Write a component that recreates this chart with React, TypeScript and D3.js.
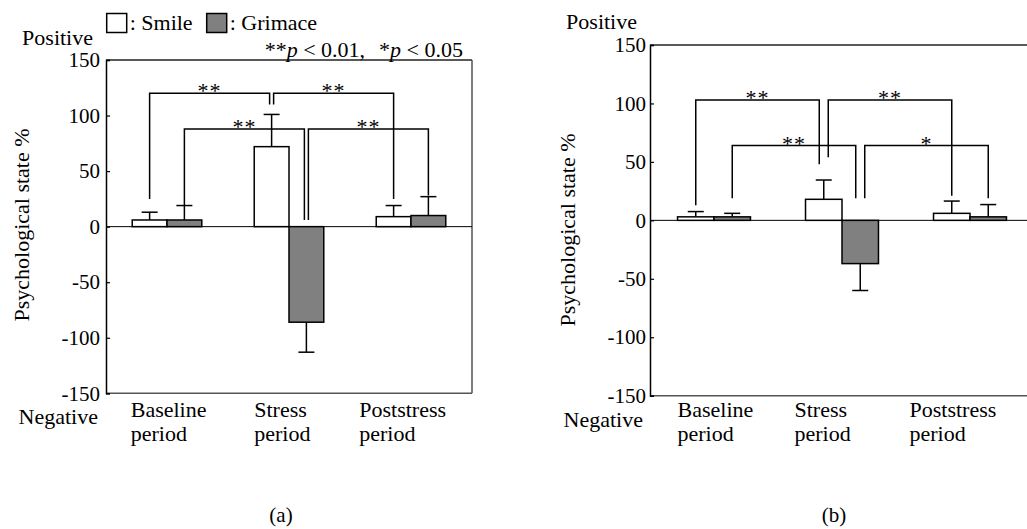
import React, { useEffect, useRef } from 'react';
import * as d3 from 'd3';

// categories and series
const periods = ['Baseline', 'Stress', 'Poststress'];
const periodLines = [
  ['Baseline', 'period'],
  ['Stress', 'period'],
  ['Poststress', 'period'],
];
const seriesKeys = ['smile', 'grimace'];
const yTicks = [-150, -100, -50, 0, 50, 100, 150];

// panel (a) values (mean and SD, %)
const smileA = [6, 72, 9];
const smileSdA = [7, 29, 10];
const grimaceA = [6, -86, 10];
const grimaceSdA = [13, 27, 17];

// panel (b) values
const smileB = [3, 18, 6];
const smileSdB = [4.5, 16.5, 10.5];
const grimaceB = [3, -37, 3];
const grimaceSdB = [3, 23, 10.5];

interface Leg {
  period: string;
  series: string;
  end: number;
}
interface Bracket {
  from: Leg;
  to: Leg;
  level: number;
  label: string;
}

const bracketsA: Bracket[] = [
  { from: { period: 'Baseline', series: 'smile', end: 25 }, to: { period: 'Stress', series: 'smile', end: 110 }, level: 120, label: '**' },
  { from: { period: 'Stress', series: 'smile', end: 110 }, to: { period: 'Poststress', series: 'smile', end: 25 }, level: 120, label: '**' },
  { from: { period: 'Baseline', series: 'grimace', end: 19 }, to: { period: 'Stress', series: 'grimace', end: 6 }, level: 88, label: '**' },
  { from: { period: 'Stress', series: 'grimace', end: 6 }, to: { period: 'Poststress', series: 'grimace', end: 28 }, level: 88, label: '**' },
];

const bracketsB: Bracket[] = [
  { from: { period: 'Baseline', series: 'smile', end: 13 }, to: { period: 'Stress', series: 'smile', end: 48 }, level: 103, label: '**' },
  { from: { period: 'Stress', series: 'smile', end: 54 }, to: { period: 'Poststress', series: 'smile', end: 21 }, level: 103, label: '**' },
  { from: { period: 'Baseline', series: 'grimace', end: 19 }, to: { period: 'Stress', series: 'grimace', end: 19 }, level: 64, label: '**' },
  { from: { period: 'Stress', series: 'grimace', end: 19 }, to: { period: 'Poststress', series: 'grimace', end: 19 }, level: 64, label: '*' },
];

const FONT = '"Liberation Serif", "Times New Roman", serif';
const GREY = '#808080';

interface PanelConfig {
  left: number;
  right: number;
  top: number;
  bottom: number;
  smile: number[];
  smileSd: number[];
  grimace: number[];
  grimaceSd: number[];
  brackets: Bracket[];
  legGap: number;
  tickGap: number;
  labelDx: number[];
  ylabelX: number;
  ylabelY: number;
  positive: [number, number];
  negative: [number, number];
  caption: [number, string];
}

const panelA: PanelConfig = {
  left: 106, right: 472, top: 60, bottom: 393.3,
  smile: smileA, smileSd: smileSdA, grimace: grimaceA, grimaceSd: grimaceSdA,
  brackets: bracketsA, legGap: 4, tickGap: 6,
  labelDx: [-1.5, 0, -17],
  ylabelX: 29, ylabelY: 225,
  positive: [93, 45], negative: [98, 424],
  caption: [281, '(a)'],
};

const panelB: PanelConfig = {
  left: 650, right: 1034, top: 45, bottom: 395.7,
  smile: smileB, smileSd: smileSdB, grimace: grimaceB, grimaceSd: grimaceSdB,
  brackets: bracketsB, legGap: 9, tickGap: 4,
  labelDx: [0, -11, -24],
  ylabelX: 575, ylabelY: 230,
  positive: [637, 29], negative: [643, 427],
  caption: [834, '(b)'],
};

function drawPanel(svg: d3.Selection<SVGSVGElement, unknown, null, undefined>, c: PanelConfig) {
  const g = svg.append('g').attr('font-family', FONT);

  const x0 = d3.scaleBand().domain(periods).range([c.left, c.right]).paddingInner(0.43).paddingOuter(0.215);
  const x1 = d3.scaleBand().domain(seriesKeys).range([0, x0.bandwidth()]);
  const y = d3.scaleLinear().domain([-150, 150]).range([c.bottom, c.top]);

  const rows = periods.flatMap((p, i) => [
    { period: p, series: 'smile', v: c.smile[i], sd: c.smileSd[i] },
    { period: p, series: 'grimace', v: c.grimace[i], sd: c.grimaceSd[i] },
  ]);
  const cx = (p: string, s: string) => (x0(p) as number) + (x1(s) as number) + x1.bandwidth() / 2;

  // frame
  g.append('line').attr('x1', c.left).attr('x2', c.right).attr('y1', c.top).attr('y2', c.top).attr('stroke', '#222').attr('stroke-width', 1.3);
  g.append('line').attr('x1', c.left).attr('x2', c.right).attr('y1', c.bottom).attr('y2', c.bottom).attr('stroke', '#555').attr('stroke-width', 1.5);
  g.append('line').attr('x1', c.right).attr('x2', c.right).attr('y1', c.top).attr('y2', c.bottom).attr('stroke', '#555').attr('stroke-width', 1.5);

  // zero line
  g.append('line').attr('x1', c.left).attr('x2', c.right).attr('y1', y(0)).attr('y2', y(0)).attr('stroke', '#000').attr('stroke-width', 1);

  // y axis
  const axis = g.append('g').attr('transform', `translate(${c.left},0)`)
    .call(d3.axisLeft(y).tickValues(yTicks).tickSize(-4).tickPadding(c.tickGap).tickFormat((d) => String(d)));
  axis.select('.domain').attr('stroke', '#000').attr('stroke-width', 1.5);
  axis.selectAll('.tick line').attr('stroke', '#000').attr('stroke-width', 1.2);
  axis.selectAll('.tick text').attr('font-family', FONT).attr('font-size', 21).attr('fill', '#000');

  // error bars (one-sided, outward)
  const err = g.append('g').attr('stroke', '#000').attr('stroke-width', 1.5);
  rows.forEach((r) => {
    const xc = cx(r.period, r.series);
    const tip = r.v >= 0 ? r.v + r.sd : r.v - r.sd;
    err.append('line').attr('x1', xc).attr('x2', xc).attr('y1', y(r.v)).attr('y2', y(tip));
    err.append('line').attr('x1', xc - 8).attr('x2', xc + 8).attr('y1', y(tip)).attr('y2', y(tip));
  });

  // bars
  g.append('g').selectAll('rect').data(rows).join('rect')
    .attr('x', (d) => (x0(d.period) as number) + (x1(d.series) as number))
    .attr('width', x1.bandwidth())
    .attr('y', (d) => y(Math.max(0, d.v)))
    .attr('height', (d) => Math.abs(y(d.v) - y(0)))
    .attr('fill', (d) => (d.series === 'smile' ? '#fff' : GREY))
    .attr('stroke', '#000')
    .attr('stroke-width', 1.5);

  // significance brackets
  const legCount = new Map<string, number>();
  c.brackets.forEach((b) => [b.from, b.to].forEach((l) => {
    const k = l.period + l.series;
    legCount.set(k, (legCount.get(k) || 0) + 1);
  }));
  const br = g.append('g');
  c.brackets.forEach((b) => {
    let xa = cx(b.from.period, b.from.series);
    let xb = cx(b.to.period, b.to.series);
    if ((legCount.get(b.from.period + b.from.series) || 0) > 1) xa += c.legGap / 2;
    if ((legCount.get(b.to.period + b.to.series) || 0) > 1) xb -= c.legGap / 2;
    const yl = y(b.level);
    br.append('path')
      .attr('d', `M${xa},${y(b.from.end)}V${yl}H${xb}V${y(b.to.end)}`)
      .attr('fill', 'none').attr('stroke', '#000').attr('stroke-width', 1.5);
    br.append('text')
      .attr('x', (xa + xb) / 2).attr('y', yl + 5)
      .attr('text-anchor', 'middle').attr('font-size', 22).attr('letter-spacing', 1)
      .text(b.label);
  });

  // category labels
  periodLines.forEach((lines, i) => {
    const t = g.append('text').attr('font-size', 22).attr('fill', '#000');
    const lx = (x0(periods[i]) as number) + c.labelDx[i];
    lines.forEach((ln, j) => {
      t.append('tspan').attr('x', lx).attr('y', 416.5 + j * 24.5).text(ln);
    });
  });

  // y label
  g.append('text')
    .attr('transform', `translate(${c.ylabelX},${c.ylabelY}) rotate(-90)`)
    .attr('text-anchor', 'middle').attr('font-size', 22)
    .text('Psychological state %');

  g.append('text').attr('x', c.positive[0]).attr('y', c.positive[1]).attr('text-anchor', 'end').attr('font-size', 22).text('Positive');
  g.append('text').attr('x', c.negative[0]).attr('y', c.negative[1]).attr('text-anchor', 'end').attr('font-size', 22).text('Negative');
  g.append('text').attr('x', c.caption[0]).attr('y', 522).attr('text-anchor', 'middle').attr('font-size', 21).text(c.caption[1]);
}

const App: React.FC = () => {
  const svgRef = useRef<SVGSVGElement>(null);

  useEffect(() => {
    if (!svgRef.current) return;
    const svg = d3.select(svgRef.current);
    svg.selectAll('*').remove();

    drawPanel(svg, panelA);
    drawPanel(svg, panelB);

    // legend
    const lg = svg.append('g').attr('font-family', FONT).attr('font-size', 22);
    const legend = [
      { key: 'smile', label: ': Smile', fill: '#fff', x: 106.7 },
      { key: 'grimace', label: ': Grimace', fill: GREY, x: 206.7 },
    ];
    legend.forEach((l) => {
      lg.append('rect').attr('x', l.x).attr('y', 13.5).attr('width', 20).attr('height', 19)
        .attr('fill', l.fill).attr('stroke', '#000').attr('stroke-width', 1.5);
      lg.append('text').attr('x', l.x + 23).attr('y', 29.5).text(l.label);
    });

    // p-value note
    const note = svg.append('text').attr('font-family', FONT).attr('font-size', 22)
      .attr('x', 463).attr('y', 57).attr('text-anchor', 'end');
    note.append('tspan').text('**');
    note.append('tspan').attr('font-style', 'italic').text('p');
    note.append('tspan').text(' < 0.01,');
    note.append('tspan').attr('dx', 14).text('*');
    note.append('tspan').attr('font-style', 'italic').text('p');
    note.append('tspan').text(' < 0.05');
  }, []);

  return (
    <svg
      ref={svgRef}
      width={1027}
      height={529}
      style={{ position: 'absolute', left: 0, top: 0, background: '#fff' }}
    />
  );
};

export default App;
